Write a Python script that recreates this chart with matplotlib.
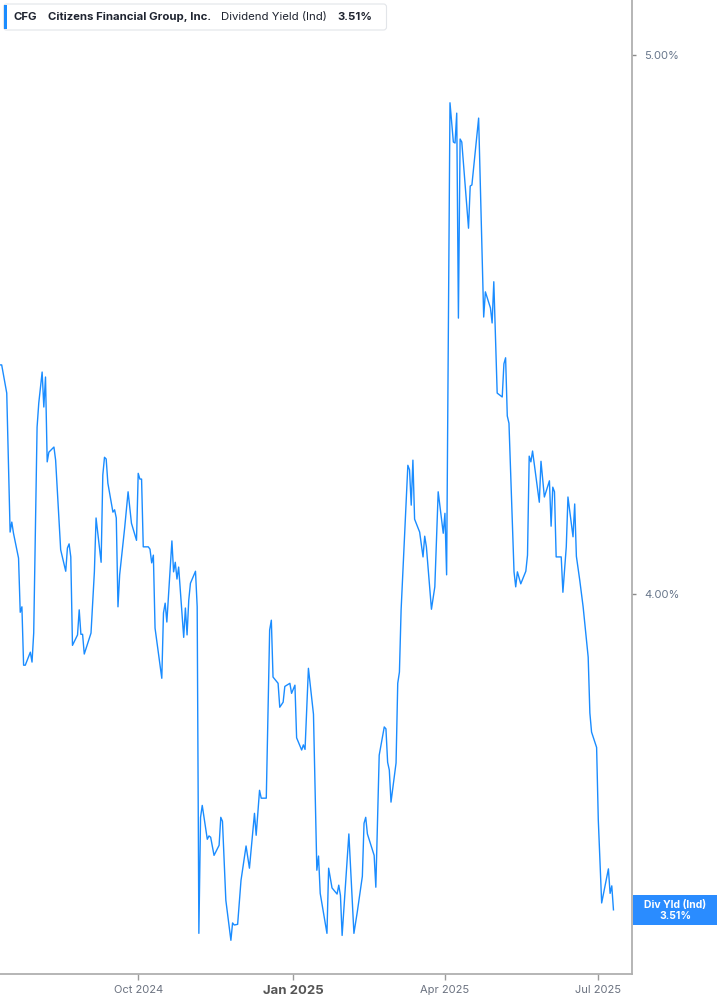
import pandas as pd
import matplotlib
matplotlib.use('Agg')
import matplotlib.pyplot as plt
from matplotlib.patches import FancyBboxPatch, Rectangle
from matplotlib.ticker import NullLocator

plt.rcParams['font.family'] = ['Inter', 'DejaVu Sans']

# datos: dias desde 2024-07-11 y rendimiento por dividendo (%)
start = pd.Timestamp('2024-07-11')
days = [0, 1, 4, 6, 7, 8, 11, 12, 13, 14, 15, 18, 19, 20, 22, 23, 25, 26, 27, 28,
        29, 32, 33, 36, 39, 40, 41, 42, 43, 46, 47, 48, 49, 50, 54, 56, 57, 60, 61, 62,
        63, 64, 67, 68, 69, 70, 71, 74, 76, 78, 81, 82, 83, 84, 85, 88, 89, 90, 91, 92,
        96, 97, 98, 99, 102, 103, 104, 105, 106, 109, 110, 111, 112, 113, 116, 117, 118, 119, 120, 123,
        124, 125, 127, 130, 131, 132, 134, 137, 138, 139, 141, 143, 146, 148, 151, 152, 154, 155, 158, 160,
        161, 162, 165, 166, 168, 169, 172, 173, 175, 176, 179, 180, 181, 183, 186, 188, 189, 190, 194, 195,
        197, 200, 201, 202, 203, 207, 210, 212, 215, 216, 217, 218, 222, 223, 225, 228, 229, 230, 231, 232,
        235, 236, 237, 238, 242, 243, 244, 245, 246, 249, 251, 252, 253, 256, 258, 260, 263, 264, 265, 267,
        269, 270, 271, 272, 273, 274, 278, 279, 280, 284, 287, 288, 291, 292, 293, 295, 298, 299, 300, 301,
        302, 305, 306, 307, 309, 312, 313, 314, 315, 316, 320, 321, 323, 326, 327, 328, 329, 330, 333, 334,
        336, 337, 340, 341, 342, 344, 346, 349, 350, 351, 354, 355, 357, 361, 362, 363, 364]
yields = [4.398, 4.398, 4.347, 4.104, 4.121, 4.102, 4.060, 3.970, 3.979, 3.884,
          3.884, 3.905, 3.889, 3.936, 4.286, 4.329, 4.385, 4.322, 4.376, 4.225,
          4.242, 4.251, 4.228, 4.074, 4.038, 4.077, 4.084, 4.062, 3.916, 3.933,
          3.974, 3.934, 3.934, 3.902, 3.936, 4.037, 4.128, 4.053, 4.202, 4.233,
          4.230, 4.188, 4.138, 4.142, 4.128, 3.979, 4.032, 4.112, 4.173, 4.119,
          4.090, 4.205, 4.195, 4.195, 4.079, 4.079, 4.075, 4.052, 4.065, 3.944,
          3.863, 3.969, 3.985, 3.954, 4.089, 4.037, 4.053, 4.025, 4.045, 3.929,
          3.977, 3.933, 3.990, 4.018, 4.038, 3.979, 3.476, 3.647, 3.665, 3.614,
          3.619, 3.617, 3.590, 3.605, 3.647, 3.641, 3.524, 3.466, 3.491, 3.488,
          3.489, 3.553, 3.604, 3.571, 3.653, 3.620, 3.688, 3.676, 3.676, 3.941,
          3.957, 3.865, 3.855, 3.817, 3.825, 3.850, 3.855, 3.839, 3.852, 3.769,
          3.750, 3.758, 3.751, 3.879, 3.806, 3.568, 3.589, 3.534, 3.476, 3.571,
          3.542, 3.533, 3.546, 3.531, 3.473, 3.622, 3.476, 3.507, 3.559, 3.638,
          3.647, 3.622, 3.590, 3.543, 3.742, 3.786, 3.783, 3.731, 3.719, 3.670,
          3.730, 3.855, 3.873, 3.974, 4.219, 4.211, 4.150, 4.228, 4.126, 4.104,
          4.062, 4.097, 4.079, 3.975, 4.012, 4.173, 4.102, 4.136, 4.032, 4.902,
          4.823, 4.821, 4.881, 4.484, 4.829, 4.823, 4.654, 4.736, 4.738, 4.871,
          4.486, 4.533, 4.503, 4.475, 4.552, 4.347, 4.340, 4.400, 4.411, 4.306,
          4.293, 4.037, 4.012, 4.037, 4.017, 4.038, 4.065, 4.235, 4.225, 4.244,
          4.155, 4.226, 4.164, 4.192, 4.114, 4.181, 4.173, 4.062, 4.062, 4.003,
          4.079, 4.164, 4.096, 4.152, 4.063, 4.023, 3.979, 3.897, 3.808, 3.778,
          3.754, 3.643, 3.520, 3.570, 3.534, 3.545, 3.51]

tick_dates = ['2024-10-01', '2025-01-01', '2025-04-01', '2025-07-01']
tick_labels = ['Oct 2024', 'Jan 2025', 'Apr 2025', 'Jul 2025']
y_ticks = [4.0, 5.0]

ticker = 'CFG'
company = 'Citizens Financial Group, Inc.'
metric = 'Dividend Yield (Ind)'

line_color = '#1a8cff'
axis_color = '#b0b0b0'

dates = start + pd.to_timedelta(days, unit='D')

W, H = 717, 1005
fig = plt.figure(figsize=(W / 100, H / 100), dpi=100)
ax = fig.add_axes([0, 31 / H, 632 / W, 974 / H])

ax.plot(dates, yields, color=line_color, lw=1.0)

ax.set_yscale('log')
ax.set_ylim(3.418, 5.115)
ax.set_xlim(start, start + pd.Timedelta(days=375))

ax.yaxis.tick_right()
ax.set_yticks(y_ticks)
ax.set_yticklabels([f'{v:.2f}%' for v in y_ticks])
ax.yaxis.set_minor_locator(NullLocator())

ax.set_xticks([pd.Timestamp(d) for d in tick_dates])
ax.set_xticklabels(tick_labels)
ax.xaxis.set_minor_locator(NullLocator())

for s in ['left', 'top']:
    ax.spines[s].set_visible(False)
for s in ['bottom', 'right']:
    ax.spines[s].set_color(axis_color)
    ax.spines[s].set_linewidth(1.3)

ax.tick_params(axis='x', length=4, width=1, color='#9a9a9a', labelsize=8,
               labelcolor='#6b7280', pad=4)
ax.tick_params(axis='y', length=3, width=1, color='#8a8a8a', labelsize=8,
               labelcolor='#66758a', pad=6)
for lbl in ax.get_xticklabels():
    if lbl.get_text() == 'Jan 2025':
        lbl.set_fontweight('bold')
        lbl.set_fontsize(9.5)
        lbl.set_color('#555555')

# capa superior en pixeles para la leyenda y la etiqueta final
ov = fig.add_axes([0, 0, 1, 1], zorder=5)
ov.set_xlim(0, W)
ov.set_ylim(H, 0)
ov.axis('off')
ov.patch.set_alpha(0)

ov.add_patch(FancyBboxPatch((3.5, 4), 383, 26, boxstyle='round,pad=0,rounding_size=3',
                            fc='white', ec='#e2e5e9', lw=0.8))
ov.add_patch(Rectangle((4, 5), 3, 24, fc=line_color, ec='none'))
last = yields[-1]
txt_kw = dict(va='center', ha='left', fontsize=8.2, color='#1f2430')
ov.text(13, 17, ticker, fontweight='bold', **txt_kw)
ov.text(48, 17, company, fontweight='bold', **txt_kw)
ov.text(221, 17, metric, **txt_kw)
ov.text(337, 17, f'{last:.2f}%', fontweight='bold', **txt_kw)

# etiqueta del ultimo valor en el eje derecho
yc = H - ax.transData.transform((0, last))[1]
ov.add_patch(Rectangle((633, yc - 15), 84, 30, fc='#2a8cff', ec='none'))
ov.text(675, yc - 4.5, 'Div Yld (Ind)', ha='center', va='center', color='white',
        fontsize=7.5, fontweight='bold')
ov.text(675, yc + 6.5, f'{last:.2f}%', ha='center', va='center', color='white',
        fontsize=7.5, fontweight='bold')

fig.savefig('out.png', dpi=100)
